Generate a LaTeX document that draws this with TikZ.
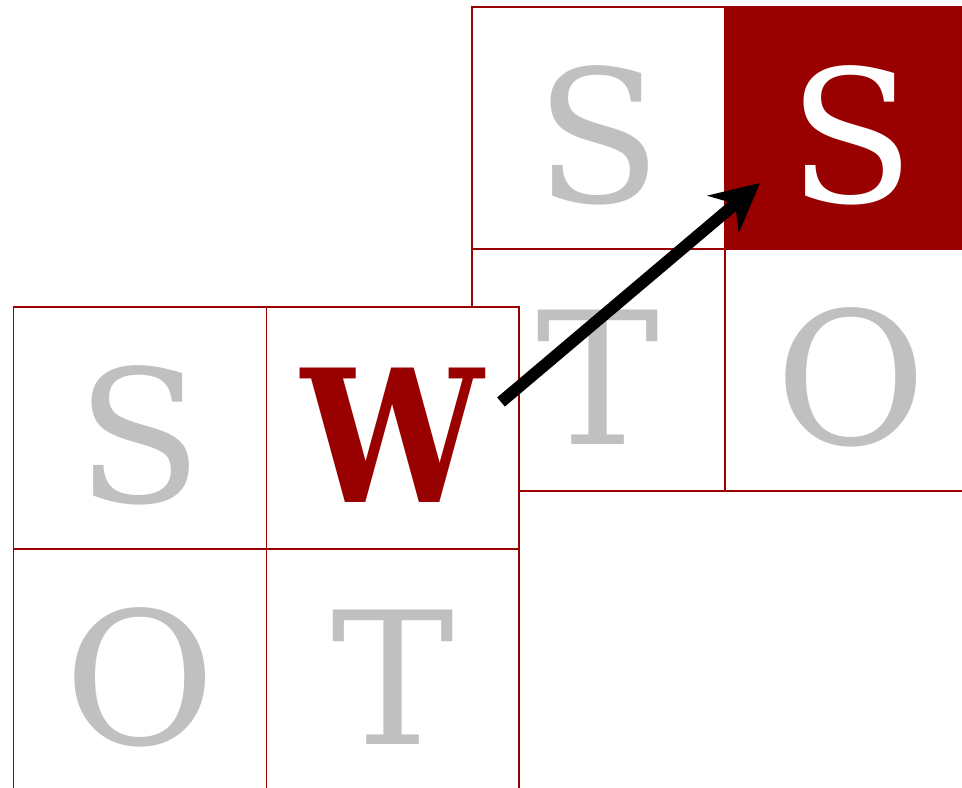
\documentclass[tikz,border=0pt]{standalone}
\usepackage{fontspec}
\setmainfont{DejaVu Serif}
\usetikzlibrary{positioning,arrows.meta}
\definecolor{swotred}{HTML}{990000}
\definecolor{swotgray}{HTML}{C0C0C0}
\tikzset{
  cell/.style={draw=swotred, line width=1.1pt, fill=white, text=swotgray,
    minimum width=5.06cm, minimum height=4.84cm, inner sep=0pt, outer sep=0pt,
    text height=3.0cm, text depth=0pt, font=\fontsize{105}{120}\selectfont},
  hot/.style={fill=swotred, text=white},
  pick/.style={text=swotred, font=\fontsize{105}{120}\selectfont\bfseries},
  move/.style={line width=6.8pt, -{Stealth[length=0.96cm,width=0.96cm]}}
}
\begin{document}
\begin{tikzpicture}[x=0.02cm,y=-0.02cm]
  \useasboundingbox (0,0) rectangle (962,787);
  \clip (0,0) rectangle (962,787);
  % grid after the move
  \node[cell] (ns) at (598.5,128) {S};
  \node[cell,hot,right=0pt of ns] (nss) {S};
  \node[cell,below=0pt of ns] (nt) {T};
  \node[cell,below=0pt of nss] (no) {O};
  % grid before the move
  \node[cell] (os) at (140,428) {S};
  \node[cell,pick,right=0pt of os] (ow) {\scalebox{0.88}[1]{W}};
  \node[cell,below=0pt of os] (oo) {O};
  \node[cell,below=0pt of ow] (ot) {T};
  % arrow
  \coordinate (from) at (501,402);
  \coordinate (to) at (760,183);
  \draw[move] (from) -- (to);
\end{tikzpicture}
\end{document}
